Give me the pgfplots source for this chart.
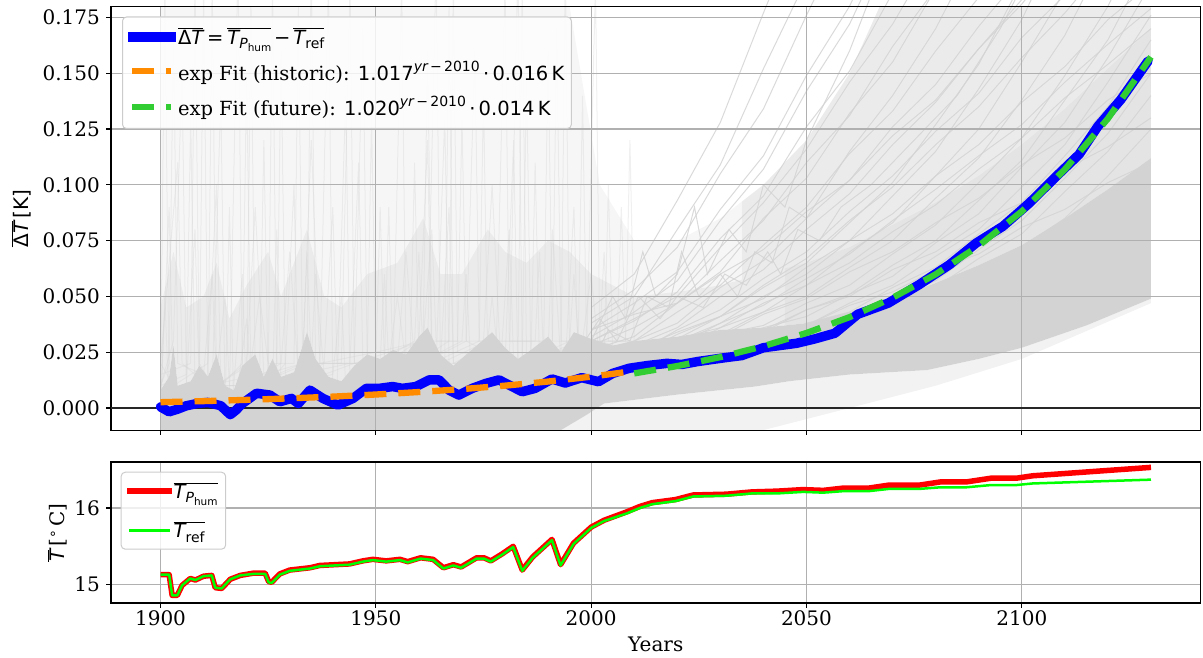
\documentclass[border=0pt]{standalone}
\usepackage{fontspec}
\setmainfont{DejaVu Serif}
\newfontfamily\dvs{DejaVu Sans}
\usepackage{pgfplots}
\usepackage{pgfplotstable}
\pgfplotsset{compat=1.18}
\usepgfplotslibrary{fillbetween}

\definecolor{cloud}{HTML}{D3D3D3}
\definecolor{gridgray}{HTML}{B0B0B0}
\definecolor{fitorange}{HTML}{FF8C00}
\definecolor{fitgreen}{HTML}{32CD32}
\definecolor{refgreen}{HTML}{00FF00}

% sans-serif math pieces
\newcommand{\sm}[1]{{\dvs #1}}
\newcommand{\si}[1]{{\dvs\itshape #1}}
\newcommand{\ssz}{\fontsize{14}{14}\selectfont}
\newcommand{\sssz}{\fontsize{10.5}{10.5}\selectfont}
\newcommand{\ovl}[1]{$\overline{\hbox{#1}}$}
\newcommand{\Tphum}{\si{T}\raisebox{-4.5pt}{\ssz\si{P}\raisebox{-3pt}{\sssz\sm{hum}}}}
\newcommand{\Tref}{\si{T}\raisebox{-4.5pt}{\ssz\sm{ref}}}
\newcommand{\expo}[1]{\raisebox{9pt}{\ssz\si{yr}\,\sm{−}\,\sm{#1}}}

\pgfplotsset{
  panel/.style={
    scale only axis, width=1089.5pt, xmin=1888.5, xmax=2141.5,
    xtick={1900,1950,2000,2050,2100},
    grid=major, major grid style={color=gridgray, line width=1.1pt},
    axis line style={black, line width=1.1pt},
    % outward ticks drawn by a negative inside length, labels placed explicitly
    tick align=inside, major tick length=-4.9pt,
    tick style={black, line width=1.1pt},
    tick pos=left,
    tick label style={font=\fontsize{20}{24}\selectfont, inner sep=0pt},
    xticklabel style={anchor=north, yshift=-7pt},
    yticklabel style={anchor=east, xshift=-11pt},
    label style={font=\fontsize{20}{24}\selectfont},
    /pgf/number format/assume math mode=true,
    /pgf/number format/1000 sep={},
    legend cell align=left,
  },
  spike/.style={color=cloud, line width=1pt, opacity=0.35, forget plot, on layer=axis background},
  fan/.style={color=cloud, line width=1pt, opacity=0.85, forget plot, on layer=axis background},
  legline/.style={legend image code/.code={\draw[##1,line cap=rect] (0pt,0pt) -- (39pt,0pt);}},
  legdash/.style={legend image code/.code={\draw[##1,line cap=butt] (0pt,0pt) -- (39pt,0pt);}},
}

% ensemble members that rise steeply after 2000
\pgfplotstableread{
yr   f1    f2    f3    f4    f5    f6    f7    f8    f9    f10   f11   f12   f13   f14   f15   f16   f17   f18   f19   f20   f21   f22   f23   f24   f25   f26   f27   f28   f29   f30   f31   f32   f33   f34
2000 0.035 0.030 0.028 0.025 0.022 0.020 0.020 0.018 0.018 0.015 0.020 0.020 0.018 0.018 0.016 0.015 0.014 0.015 0.012 0.040 0.045 0.035 0.032 0.026 0.024 0.021 0.019 0.020 0.019 0.017 0.016 0.015 0.038 0.030
2010 0.047 0.039 0.036 0.030 0.028 0.023 0.025 0.022 0.020 0.018 0.026 0.024 0.023 0.020 0.019 0.018 0.016 0.016 0.014 0.053 0.060 0.042 0.043 0.032 0.030 0.024 0.023 0.026 0.022 0.021 0.018 0.018 0.050 0.040
2020 0.061 0.052 0.047 0.043 0.036 0.033 0.030 0.026 0.027 0.021 0.034 0.031 0.025 0.026 0.021 0.019 0.019 0.022 0.015 0.072 0.093 0.047 0.057 0.047 0.038 0.035 0.028 0.031 0.029 0.023 0.023 0.019 0.080 0.050
2030 0.089 0.076 0.066 0.055 0.050 0.041 0.038 0.036 0.032 0.029 0.041 0.036 0.033 0.029 0.027 0.024 0.020 0.025 0.019 0.105 0.128 0.060 0.084 0.061 0.054 0.044 0.038 0.041 0.033 0.030 0.026 0.025 0.109 0.072
2040 0.113 0.095 0.084 0.073 0.062 0.055 0.050 0.043 0.042 0.034 0.054 0.047 0.037 0.036 0.030 0.027 0.026 0.032 0.020 0.134 0.177 0.071 0.107 0.085 0.066 0.058 0.046 0.049 0.043 0.035 0.033 0.028 0.152 0.092
2050 0.149 0.126 0.110 0.090 0.080 0.067 0.060 0.055 0.049 0.044 0.065 0.055 0.047 0.041 0.038 0.034 0.029 0.037 0.025 0.176 0.224 0.088 0.142 0.103 0.085 0.070 0.058 0.063 0.050 0.044 0.037 0.035 0.192 0.116
2060 0.180 0.151 0.131 0.114 0.096 0.084 0.075 0.065 0.061 0.050 0.083 0.070 0.055 0.051 0.043 0.038 0.036 0.046 0.028 0.215 0.286 0.102 0.172 0.132 0.102 0.088 0.069 0.075 0.063 0.051 0.047 0.039 0.245 0.146
2070 0.222 0.186 0.162 0.133 0.118 0.099 0.087 0.079 0.070 0.062 0.101 0.083 0.069 0.059 0.054 0.047 0.040 0.052 0.035 0.265 0.345 0.122 0.213 0.155 0.126 0.104 0.084 0.095 0.075 0.064 0.055 0.049 0.297 0.172
2080 0.260 0.220 0.188 0.160 0.137 0.118 0.104 0.091 0.083 0.070 0.127 0.104 0.082 0.074 0.063 0.054 0.051 0.062 0.039 0.312 0.410 0.138 0.249 0.188 0.145 0.124 0.098 0.115 0.094 0.075 0.068 0.057 0.354 0.205
2090 0.310 0.260 0.220 0.184 0.161 0.135 0.118 0.107 0.094 0.083 0.154 0.125 0.101 0.087 0.078 0.067 0.058 0.069 0.049 0.365 0.480 0.161 0.295 0.216 0.171 0.141 0.113 0.143 0.112 0.093 0.080 0.071 0.416 0.239
2100 0.350 0.300 0.250 0.214 0.183 0.157 0.137 0.121 0.109 0.092 0.191 0.155 0.121 0.108 0.092 0.078 0.072 0.081 0.056 0.420 0.560 0.181 0.337 0.252 0.194 0.166 0.127 0.174 0.138 0.111 0.099 0.084 0.481 0.275
2110 0.400 0.340 0.290 0.240 0.210 0.177 0.153 0.139 0.121 0.107 0.232 0.187 0.149 0.128 0.113 0.097 0.085 0.089 0.070 0.480 0.640 0.205 0.388 0.284 0.222 0.185 0.146 0.215 0.167 0.138 0.118 0.103 0.550 0.314
2120 0.450 0.380 0.330 0.270 0.236 0.200 0.174 0.154 0.138 0.117 0.287 0.230 0.180 0.157 0.135 0.115 0.104 0.101 0.082 0.540 0.720 0.227 0.436 0.324 0.248 0.211 0.163 0.261 0.205 0.165 0.146 0.123 0.622 0.354
2130 0.500 0.420 0.360 0.300 0.260 0.220 0.190 0.170 0.150 0.130 0.350 0.280 0.220 0.190 0.165 0.140 0.125 0.110 0.100 0.600 0.800 0.250 0.482 0.356 0.274 0.231 0.179 0.320 0.249 0.202 0.176 0.150 0.688 0.390
}\fantab

\begin{document}
\begin{tikzpicture}

% ---------------- upper panel: temperature difference ----------------
\begin{axis}[panel, set layers,
  at={(111pt,-430.3pt)}, anchor=south west, height=424pt,
  ymin=-0.01, ymax=0.18,
  ytick={0,0.025,0.05,0.075,0.1,0.125,0.15,0.175},
  yticklabel style={/pgf/number format/.cd, fixed, fixed zerofill, precision=3},
  xticklabels={},
  ylabel={\ovl{\sm{Δ}\si{T}}\,\sm{[K]}},
  ylabel style={at={(axis description cs:-0.082,0.5)}, anchor=center},
  legend style={at={(axis description cs:0.0101,0.976)}, anchor=north west,
    draw=black!20, line width=1pt, rounded corners=4pt,
    fill=white, fill opacity=0.8, text opacity=1,
    font=\fontsize{19.5}{23}\selectfont,
    inner xsep=5pt, inner ysep=9pt, row sep=11pt},
]
% envelopes of the ensemble spread
\addplot[draw=none, name path=LL, forget plot] coordinates {(1900,-0.0099)(2040,-0.0099)(2060,0.0)(2080,0.01)(2100,0.022)(2130,0.047)};
\addplot[draw=none, name path=Lo, forget plot] coordinates {(1900,-0.0099)(1993,-0.0099)(1999,-0.003)(2003,0.002)(2020,0.006)(2038,0.0096)(2046,0.012)(2060,0.015)(2078,0.017)(2090,0.022)(2100,0.027)(2115,0.037)(2130,0.049)};
\addplot[draw=none, name path=Up, forget plot] coordinates {(1900,0.008)(1902,0.014)(1903,0.028)(1904,0.010)(1907,0.012)(1909,0.019)(1911,0.014)(1913,0.024)(1915,0.010)(1917,0.008)(1919,0.019)(1922,0.024)(1924,0.014)(1926,0.022)(1928,0.014)(1931,0.016)(1934,0.034)(1936,0.022)(1939,0.014)(1942,0.012)(1945,0.019)(1948,0.024)(1951,0.022)(1954,0.026)(1957,0.024)(1960,0.032)(1962,0.036)(1965,0.024)(1968,0.019)(1971,0.024)(1974,0.029)(1977,0.034)(1980,0.027)(1983,0.022)(1986,0.026)(1990,0.032)(1993,0.025)(1996,0.034)(2000,0.031)(2005,0.028)(2010,0.030)(2020,0.032)(2030,0.035)(2040,0.036)(2050,0.038)(2060,0.043)(2070,0.049)(2080,0.056)(2090,0.064)(2100,0.073)(2110,0.085)(2120,0.098)(2130,0.112)};
\addplot[draw=none, name path=Md, forget plot] coordinates {(1900,0.045)(1903,0.07)(1906,0.045)(1910,0.05)(1913,0.065)(1916,0.04)(1920,0.055)(1925,0.07)(1928,0.05)(1934,0.08)(1938,0.05)(1942,0.045)(1948,0.06)(1955,0.065)(1961,0.085)(1965,0.06)(1970,0.06)(1976,0.08)(1980,0.07)(1985,0.065)(1990,0.075)(1995,0.07)(2000,0.06)(2010,0.05)(2020,0.052)(2030,0.055)(2040,0.06)(2050,0.065)(2060,0.072)(2070,0.082)(2080,0.092)(2090,0.104)(2100,0.118)(2110,0.134)(2120,0.152)(2130,0.17)};
\addplot[draw=none, name path=En, forget plot] coordinates {(1900,0.1799)(1995,0.1799)(2002,0.1)(2010,0.075)(2020,0.075)(2030,0.085)(2040,0.1)(2050,0.12)(2060,0.15)(2067,0.1799)(2130,0.1799)};
\addplot[color=cloud, opacity=0.3, forget plot] fill between[of=LL and Lo, on layer=axis background];
\addplot[color=cloud, opacity=0.2, forget plot] fill between[of=Md and En, on layer=axis background];
\addplot[color=cloud, opacity=0.3, forget plot] fill between[of=Md and En, soft clip={domain=2035:2130}, on layer=axis background];
\addplot[color=cloud, opacity=0.45, forget plot] fill between[of=Up and Md, on layer=axis background];
\addplot[color=cloud, opacity=0.3, forget plot] fill between[of=Up and Md, soft clip={domain=2045:2130}, on layer=axis background];
\addplot[color=cloud, forget plot] fill between[of=Lo and Up, on layer=axis background];

% individual historic members with short-lived peaks
\addplot[spike] coordinates {(1900,0.01)(1902,0.02)(1903,0.17)(1904,0.02)(1910,0.015)(1912,0.06)(1913,0.01)(1920,0.02)(1922,0.09)(1924,0.015)(1933,0.02)(1935,0.12)(1937,0.02)(1950,0.025)(1961,0.03)(1962,0.16)(1963,0.03)(1975,0.03)(1977,0.1)(1979,0.02)(1990,0.025)(1991,0.08)(1993,0.02)(2005,0.025)(2012,0.03)};
\addplot[spike] coordinates {(1900,0.005)(1906,0.01)(1908,0.08)(1909,0.01)(1916,0.005)(1918,0.2)(1919,0.01)(1928,0.02)(1930,0.07)(1932,0.015)(1944,0.02)(1946,0.11)(1947,0.02)(1955,0.02)(1957,0.07)(1959,0.02)(1967,0.03)(1968,0.19)(1969,0.025)(1984,0.02)(1985,0.15)(1986,0.02)(1998,0.03)(2000,0.06)(2002,0.02)(2012,0.025)};
\addplot[spike] coordinates {(1900,0.0)(1901,0.05)(1902,0.0)(1912,0.01)(1914,0.14)(1915,0.0)(1925,0.01)(1926,0.19)(1927,0.01)(1940,0.015)(1942,0.05)(1943,0.01)(1952,0.02)(1953,0.09)(1954,0.015)(1964,0.02)(1966,0.13)(1967,0.02)(1980,0.02)(1982,0.12)(1983,0.015)(1994,0.02)(1996,0.09)(1997,0.02)(2010,0.03)};
\addplot[spike] coordinates {(1900,0.02)(1904,0.11)(1905,0.02)(1911,0.01)(1912,0.19)(1913,0.01)(1921,0.02)(1923,0.05)(1925,0.02)(1931,0.02)(1932,0.18)(1933,0.02)(1948,0.02)(1949,0.13)(1950,0.02)(1959,0.03)(1960,0.07)(1961,0.02)(1971,0.03)(1973,0.16)(1974,0.03)(1987,0.03)(1988,0.07)(1989,0.02)(2003,0.02)(2004,0.1)(2005,0.025)(2012,0.03)};
\addplot[spike] coordinates {(1900,0.01)(1903,0.03)(1905,0.15)(1906,0.01)(1917,0.01)(1919,0.06)(1920,0.0)(1929,0.02)(1931,0.1)(1932,0.01)(1937,0.02)(1939,0.19)(1940,0.01)(1953,0.02)(1955,0.05)(1957,0.02)(1965,0.02)(1967,0.09)(1968,0.02)(1978,0.03)(1980,0.19)(1981,0.03)(1991,0.03)(1992,0.17)(1993,0.03)(2008,0.03)(2009,0.12)(2010,0.03)};
\addplot[spike] coordinates {(1900,0.0)(1902,0.09)(1903,0.0)(1909,0.01)(1910,0.19)(1911,0.01)(1923,0.015)(1924,0.12)(1925,0.01)(1935,0.02)(1936,0.06)(1938,0.015)(1945,0.02)(1947,0.17)(1948,0.02)(1958,0.025)(1959,0.11)(1960,0.02)(1970,0.03)(1971,0.06)(1972,0.02)(1983,0.02)(1984,0.19)(1985,0.02)(1997,0.03)(1998,0.14)(1999,0.02)(2011,0.03)};
\addplot[spike] coordinates {(1900,0.015)(1907,0.02)(1908,0.19)(1909,0.02)(1915,0.0)(1916,0.09)(1917,0.0)(1927,0.02)(1928,0.16)(1929,0.015)(1941,0.01)(1943,0.14)(1944,0.01)(1951,0.02)(1952,0.06)(1953,0.02)(1962,0.025)(1964,0.2)(1965,0.02)(1976,0.03)(1977,0.05)(1978,0.03)(1989,0.03)(1990,0.16)(1991,0.03)(2002,0.03)(2003,0.07)(2004,0.03)(2012,0.03)};
\addplot[spike] coordinates {(1900,0.005)(1901,0.19)(1902,0.005)(1913,0.015)(1915,0.05)(1916,0.01)(1920,0.01)(1921,0.18)(1922,0.01)(1934,0.02)(1935,0.2)(1936,0.02)(1950,0.02)(1951,0.09)(1952,0.02)(1960,0.03)(1962,0.12)(1963,0.02)(1974,0.03)(1975,0.14)(1976,0.02)(1986,0.02)(1987,0.11)(1988,0.02)(1999,0.03)(2001,0.19)(2002,0.03)(2010,0.025)};
\addplot[spike] coordinates {(1900,0.01)(1906,0.015)(1907,0.13)(1908,0.01)(1918,0.01)(1920,0.04)(1921,0.01)(1926,0.01)(1927,0.08)(1928,0.01)(1938,0.02)(1940,0.09)(1941,0.02)(1954,0.02)(1956,0.19)(1957,0.02)(1966,0.02)(1967,0.18)(1968,0.02)(1979,0.02)(1981,0.08)(1982,0.02)(1993,0.02)(1994,0.2)(1995,0.02)(2006,0.03)(2007,0.09)(2008,0.03)};
\addplot[spike] coordinates {(1900,0.02)(1903,0.01)(1911,0.02)(1913,0.1)(1914,0.01)(1919,0.02)(1920,0.15)(1921,0.01)(1933,0.02)(1934,0.07)(1935,0.02)(1942,0.02)(1944,0.19)(1945,0.02)(1961,0.03)(1963,0.08)(1964,0.03)(1969,0.03)(1970,0.13)(1971,0.03)(1981,0.02)(1983,0.2)(1984,0.02)(1995,0.03)(1996,0.06)(1997,0.03)(2009,0.03)};

% members wandering upward through the early 21st century
\addplot[fan] coordinates {(2000,0.03)(2005,0.05)(2008,0.04)(2012,0.07)(2015,0.05)(2020,0.06)(2024,0.09)(2027,0.06)(2032,0.08)(2036,0.07)(2040,0.1)(2045,0.09)(2050,0.12)(2055,0.14)(2060,0.16)(2066,0.19)};
\addplot[fan] coordinates {(2000,0.02)(2004,0.035)(2009,0.03)(2013,0.05)(2018,0.045)(2021,0.07)(2025,0.05)(2030,0.06)(2034,0.05)(2038,0.07)(2042,0.065)(2046,0.09)(2050,0.085)(2055,0.1)(2060,0.115)(2070,0.14)(2080,0.17)(2088,0.2)};
\addplot[fan] coordinates {(1995,0.02)(2002,0.04)(2006,0.03)(2011,0.05)(2016,0.04)(2020,0.05)(2026,0.045)(2031,0.06)(2036,0.055)(2041,0.07)(2044,0.06)(2048,0.08)(2053,0.075)(2058,0.09)(2065,0.1)(2075,0.12)(2085,0.14)(2095,0.17)(2103,0.2)};
\pgfplotsinvokeforeach{1,...,34}{
  \addplot[fan] table[x=yr, y=f#1] {\fantab};
}

% zero reference
\addplot[black!85, line width=1.6pt, forget plot] coordinates {(1888.5,0)(2141.5,0)};

% ensemble mean
\addplot[blue, line width=9.5pt, line join=round, line cap=round, legline] coordinates {
(1900,0.0005)(1902,-0.0017)(1904,-0.0005)(1906,0.001)(1908.5,0.002)(1911,0.0025)(1914,0.001)(1916.2,-0.003)(1917.5,-0.001)(1919,0.002)(1922.3,0.0066)(1925.4,0.0058)(1927.7,0.0028)(1930.4,0.0043)(1932,0.002)(1934.7,0.008)(1937.7,0.0043)(1941.2,0.0013)(1944.7,0.0043)(1947.8,0.0088)(1950.8,0.0088)(1953.9,0.0096)(1956.2,0.0088)(1959.3,0.0096)(1962.4,0.0126)(1964.7,0.0126)(1967,0.008)(1969.3,0.0058)(1972.4,0.0088)(1975.5,0.011)(1978.6,0.0126)(1980.9,0.0103)(1984,0.0073)(1987,0.0088)(1990.9,0.013)(1994,0.0112)(1997.8,0.0136)(2001.7,0.0118)(2005,0.0155)(2008.8,0.0178)(2013,0.019)(2017.6,0.020)(2021,0.0195)(2024.7,0.0208)(2030.9,0.0225)(2035,0.0235)(2040,0.027)(2047.7,0.029)(2052,0.031)(2056.6,0.0335)(2061.9,0.0420)(2069,0.047)(2076.1,0.0552)(2083.2,0.0642)(2089.4,0.0739)(2095.6,0.0814)(2101.8,0.0919)(2108,0.1038)(2113.3,0.1136)(2117.7,0.1263)(2123,0.1382)(2129.3,0.1554)};
\addlegendentry{\ovl{\sm{Δ}\si{T}}\hspace{0.2em}\sm{=}\hspace{0.2em}\ovl{\Tphum}\hspace{0.15em}\sm{−}\hspace{0.15em}\ovl{\Tref}}

% exponential fits
\addplot[fitorange, line width=6.3pt, dash pattern=on 22pt off 12pt, legdash] coordinates {
(1900,0.0026)(1910,0.00308)(1920,0.00364)(1930,0.00431)(1940,0.0051)(1950,0.00604)(1960,0.00715)(1970,0.00846)(1980,0.01001)(1990,0.01185)(2000,0.01403)(2010,0.0166)};
\addlegendentry{exp Fit (historic): \sm{1.017}\expo{2010}\,\sm{·}\,\sm{0.016}\,\sm{K}}

\addplot[fitgreen, line width=6.3pt, dash pattern=on 22pt off 12pt, legdash] coordinates {
(2010,0.0155)(2020,0.0188)(2030,0.0228)(2040,0.0277)(2050,0.0336)(2060,0.0407)(2070,0.0494)(2080,0.0599)(2090,0.0727)(2100,0.0881)(2110,0.1069)(2120,0.1297)(2130,0.1573)};
\addlegendentry{exp Fit (future): \sm{1.020}\expo{2010}\,\sm{·}\,\sm{0.014}\,\sm{K}}
\end{axis}

% ---------------- lower panel: absolute temperatures ----------------
\begin{axis}[panel,
  at={(111pt,-603pt)}, anchor=south west, height=141pt,
  ymin=14.76, ymax=16.6, ytick={15,16},
  xlabel={Years},
  xlabel style={at={(axis description cs:0.5,0)}, anchor=center, yshift=-41pt},
  ylabel={\ovl{\si{T}}\,[\raisebox{7pt}{\ssz\sm{∘}}\,C]},
  ylabel style={at={(axis description cs:-0.0491,0.5)}, anchor=center},
  legend style={at={(axis description cs:0.0089,0.931)}, anchor=north west,
    draw=black!20, line width=1pt, rounded corners=4pt,
    fill=white, fill opacity=0.8, text opacity=1,
    font=\fontsize{19.5}{23}\selectfont,
    inner xsep=6pt, inner ysep=8pt, row sep=17.5pt},
]
\addplot[red, line width=5.5pt, line join=round, legline] coordinates {
(1900,15.13)(1902,15.13)(1902.7,14.86)(1903.9,14.86)(1905,14.99)(1906.9,15.08)(1908.1,15.06)(1910,15.11)(1911.9,15.12)(1912.7,14.96)(1914.2,14.95)(1916.2,15.07)(1918.5,15.12)(1921.6,15.15)(1924.3,15.15)(1925.1,15.04)(1925.8,15.03)(1927.7,15.14)(1930,15.19)(1934.7,15.22)(1937,15.25)(1943.9,15.27)(1947,15.31)(1949.3,15.33)(1952.4,15.31)(1955.6,15.33)(1957.4,15.30)(1960.4,15.35)(1963.3,15.33)(1965.7,15.22)(1968,15.26)(1969.8,15.23)(1973.4,15.35)(1975.1,15.35)(1976.7,15.31)(1979.3,15.40)(1981.9,15.50)(1984,15.19)(1986.4,15.36)(1990.9,15.59)(1992.9,15.26)(1995.9,15.54)(2000,15.75)(2003,15.84)(2008.3,15.95)(2011.3,16.02)(2014.2,16.07)(2019.6,16.11)(2023.7,16.17)(2031.4,16.18)(2037.3,16.21)(2043.2,16.22)(2049.2,16.24)(2053.9,16.23)(2058.6,16.26)(2064.5,16.26)(2069.3,16.30)(2076.4,16.30)(2081.1,16.34)(2087.1,16.34)(2093,16.39)(2098.9,16.39)(2102.5,16.42)(2130,16.53)};
\addlegendentry{\ovl{\Tphum}}
\addplot[refgreen, line width=2.5pt, line join=round, legline] coordinates {
(1900,15.13)(1902,15.13)(1902.7,14.86)(1903.9,14.86)(1905,14.99)(1906.9,15.08)(1908.1,15.06)(1910,15.11)(1911.9,15.12)(1912.7,14.96)(1914.2,14.95)(1916.2,15.07)(1918.5,15.12)(1921.6,15.14)(1924.3,15.14)(1925.1,15.03)(1925.8,15.02)(1927.7,15.13)(1930,15.18)(1934.7,15.21)(1937,15.24)(1943.9,15.26)(1947,15.30)(1949.3,15.32)(1952.4,15.30)(1955.6,15.32)(1957.4,15.29)(1960.4,15.34)(1963.3,15.32)(1965.7,15.21)(1968,15.25)(1969.8,15.22)(1973.4,15.34)(1975.1,15.34)(1976.7,15.30)(1979.3,15.39)(1981.9,15.49)(1984,15.18)(1986.4,15.35)(1990.9,15.58)(1992.9,15.25)(1995.9,15.53)(2000,15.74)(2003,15.83)(2008.3,15.93)(2011.3,16.00)(2014.2,16.05)(2019.6,16.09)(2023.7,16.15)(2031.4,16.16)(2037.3,16.19)(2043.2,16.19)(2049.2,16.21)(2053.9,16.20)(2058.6,16.22)(2064.5,16.22)(2069.3,16.25)(2076.4,16.25)(2081.1,16.27)(2087.1,16.27)(2093,16.30)(2098.9,16.30)(2102.5,16.32)(2130,16.37)};
\addlegendentry{\ovl{\Tref}}
\end{axis}

% page frame
\pgfresetboundingbox
\path (0pt,0pt) rectangle (1203pt,-657pt);
\end{tikzpicture}
\end{document}
